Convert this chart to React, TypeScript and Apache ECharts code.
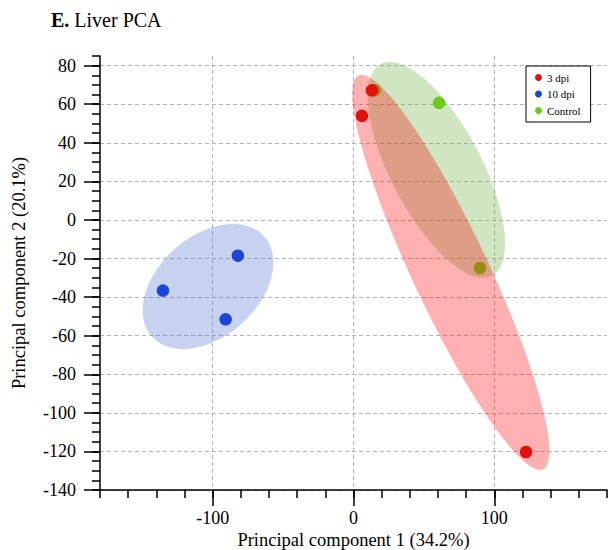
import React, { useEffect, useRef } from "react";
import * as echarts from "echarts";

// ---- data ----
const SERIES_NAMES = ["3 dpi", "10 dpi", "Control"];
const DPI3_POINTS: [number, number][] = [
  [13.1, 67.2],
  [6.0, 54.0],
  [122.5, -120.3],
];
const DPI10_POINTS: [number, number][] = [
  [-135.3, -36.6],
  [-82.1, -18.5],
  [-90.8, -51.5],
];
const CONTROL_POINTS: [number, number][] = [
  [15.0, 67.2],
  [60.7, 60.7],
  [89.8, -24.9],
];
// ellipse: [centerX, centerY, halfWidthX, halfHeightY, correlation]
const DPI3_ELLIPSE = [69.1, -27.2, 70.0, 102.4, -0.905];
const DPI10_ELLIPSE = [-103.3, -34.5, 46.4, 32.4, 0.383];
const CONTROL_ELLIPSE = [58.9, 26.0, 48.7, 56.0, -0.68];

const X_MAJOR_TICKS = [-100, 0, 100];
const Y_MAJOR_TICKS = [-140, -120, -100, -80, -60, -40, -20, 0, 20, 40, 60, 80];
const X_RANGE = [-180, 180];
const Y_RANGE = [-140, 85];

const TITLE_BOLD = "E.";
const TITLE_REST = "Liver PCA";
const X_NAME = "Principal component 1 (34.2%)";
const Y_NAME = "Principal component 2 (20.1%)";

const FONT = "'Liberation Serif', 'Times New Roman', serif";

const COLORS = {
  red: "#e3110c",
  blue: "#1b45d6",
  green: "#6ccb16",
};
const FILLS = {
  red: "rgba(255, 0, 0, 0.31)",
  blue: "rgba(60, 100, 200, 0.29)",
  green: "rgba(100, 170, 50, 0.3)",
};

function ellipseSeries(data: number[], fill: string, z: number) {
  return {
    type: "custom",
    silent: true,
    z,
    xAxisIndex: 0,
    yAxisIndex: 0,
    dimensions: ["cx", "cy", "rx", "ry", "rho"],
    encode: { x: 0, y: 1 },
    data: [data],
    renderItem: (_params: any, api: any) => {
      const cx = api.value(0);
      const cy = api.value(1);
      const rx = api.value(2);
      const ry = api.value(3);
      const rho = api.value(4);
      const s = Math.sqrt(1 - rho * rho);
      const pts: number[][] = [];
      const n = 160;
      for (let i = 0; i < n; i++) {
        const t = (i / n) * Math.PI * 2;
        pts.push(
          api.coord([
            cx + rx * Math.cos(t),
            cy + ry * (rho * Math.cos(t) + s * Math.sin(t)),
          ])
        );
      }
      return {
        type: "polygon",
        shape: { points: pts },
        style: { fill },
      };
    },
  };
}

function scatterSeries(name: string, data: [number, number][], color: string, z: number) {
  return {
    type: "scatter",
    name,
    z,
    xAxisIndex: 0,
    yAxisIndex: 0,
    symbol: "circle",
    symbolSize: 12.5,
    itemStyle: { color, opacity: 1 },
    data,
  };
}

export default function App() {
  const ref = useRef<HTMLDivElement>(null);
  useEffect(() => {
    if (!ref.current) return;
    const chart = echarts.init(ref.current, undefined, { renderer: "svg" });
    const axisLineStyle = { color: "#000", width: 1.5 };
    const labelStyle = { color: "#000", fontFamily: FONT, fontSize: 18, lineHeight: 16 };
    const splitStyle = { color: "#b4b4b4", width: 1, type: [4, 3] as any };
    chart.setOption({
      animation: false,
      backgroundColor: "#fff",
      title: {
        text: `{b|${TITLE_BOLD}} ${TITLE_REST}`,
        left: 46,
        top: 5,
        textStyle: {
          fontFamily: FONT,
          fontSize: 20,
          fontWeight: "normal",
          color: "#000",
          rich: {
            b: { fontFamily: FONT, fontSize: 20, fontWeight: "bold", color: "#000" },
          },
        },
      },
      legend: {
        data: SERIES_NAMES,
        orient: "vertical",
        left: 526,
        top: 66,
        padding: [6, 10, 6, 9],
        itemGap: 5.5,
        itemWidth: 7,
        itemHeight: 7,
        icon: "circle",
        borderColor: "#000",
        borderWidth: 1,
        backgroundColor: "#fff",
        textStyle: { fontFamily: FONT, fontSize: 11, color: "#000" },
        z: 20,
      },
      grid: {
        left: 100,
        right: 6,
        top: 56,
        bottom: 60,
        containLabel: false,
        outerBoundsMode: "none",
      },
      xAxis: [
        {
          type: "value",
          min: X_RANGE[0],
          max: X_RANGE[1],
          interval: 20,
          position: "bottom",
          axisLine: { show: true, onZero: false, lineStyle: axisLineStyle },
          axisTick: { show: true, length: 8, lineStyle: { color: "#000", width: 1.5 } },
          axisLabel: { show: false },
          splitLine: { show: false },
        },
        {
          type: "value",
          min: X_RANGE[0],
          max: X_RANGE[1],
          position: "bottom",
          offset: 0,
          name: X_NAME,
          nameLocation: "middle",
          nameGap: 41,
          nameMoveOverlap: false,
          nameTextStyle: { fontFamily: FONT, fontSize: 18.5, lineHeight: 18, color: "#000" },
          axisLine: { show: false, onZero: false },
          axisTick: {
            show: true,
            length: 16,
            customValues: X_MAJOR_TICKS,
            lineStyle: { color: "#000", width: 1.5 },
          },
          axisLabel: { ...labelStyle, margin: 20, customValues: X_MAJOR_TICKS },
          splitLine: { show: true, lineStyle: splitStyle },
        },
      ],
      yAxis: [
        {
          type: "value",
          min: Y_RANGE[0],
          max: Y_RANGE[1],
          interval: 5,
          position: "left",
          axisLine: { show: true, onZero: false, lineStyle: axisLineStyle },
          axisTick: { show: true, length: 8, lineStyle: { color: "#000", width: 1.5 } },
          axisLabel: { show: false },
          splitLine: { show: false },
        },
        {
          type: "value",
          min: Y_RANGE[0],
          max: Y_RANGE[1],
          position: "left",
          offset: 0,
          name: Y_NAME,
          nameLocation: "middle",
          nameGap: 72,
          nameTextStyle: { fontFamily: FONT, fontSize: 18.5, color: "#000" },
          axisLine: { show: false, onZero: false },
          axisTick: {
            show: true,
            length: 16,
            customValues: Y_MAJOR_TICKS,
            lineStyle: { color: "#000", width: 1.5 },
          },
          axisLabel: { ...labelStyle, margin: 24, customValues: Y_MAJOR_TICKS },
          splitLine: { show: true, lineStyle: splitStyle },
        },
      ],
      series: [
        ellipseSeries(DPI10_ELLIPSE, FILLS.blue, 2),
        scatterSeries(SERIES_NAMES[1], DPI10_POINTS, COLORS.blue, 3),
        ellipseSeries(CONTROL_ELLIPSE, FILLS.green, 4),
        scatterSeries(SERIES_NAMES[2], CONTROL_POINTS, COLORS.green, 5),
        ellipseSeries(DPI3_ELLIPSE, FILLS.red, 6),
        scatterSeries(SERIES_NAMES[0], DPI3_POINTS, COLORS.red, 7),
      ],
    });
    return () => chart.dispose();
  }, []);
  return (
    <div
      ref={ref}
      style={{ position: "fixed", left: 0, top: 0, width: 613, height: 550 }}
    />
  );
}
